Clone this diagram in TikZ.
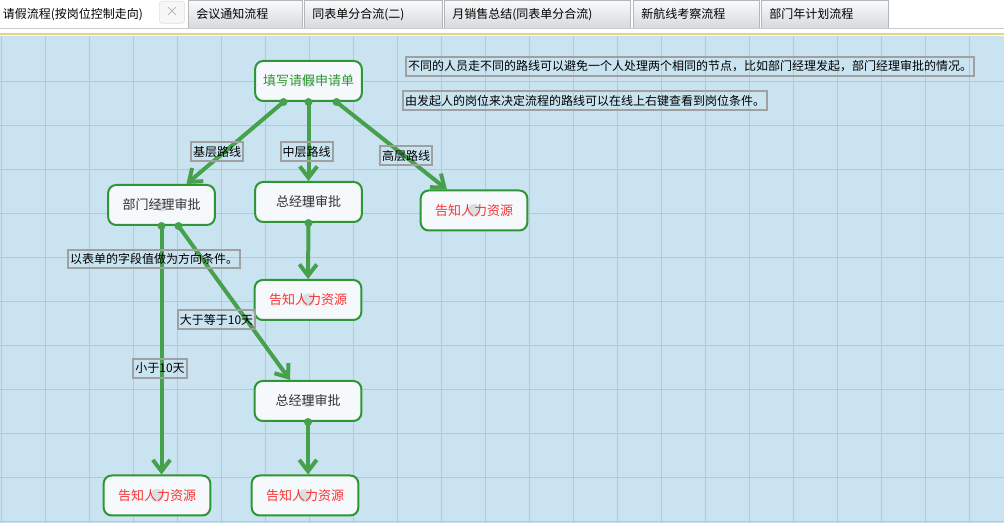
\documentclass[tikz,border=0pt]{standalone}
\usepackage{fontspec}
\setmainfont{Noto Sans CJK SC}
\usetikzlibrary{arrows.meta,calc}
\definecolor{canvas}{RGB}{201,228,240}
\definecolor{gridline}{RGB}{180,200,214}
\definecolor{flowgreen}{RGB}{70,160,76}
\definecolor{boxgreen}{RGB}{46,150,52}
\definecolor{nodefill}{RGB}{245,249,251}
\definecolor{hubgray}{RGB}{218,223,226}
\definecolor{tipred}{RGB}{250,50,50}
\definecolor{labelgray}{RGB}{160,160,160}
\definecolor{tabtop}{RGB}{250,250,250}
\definecolor{tabbot}{RGB}{214,217,221}
\definecolor{tabline}{RGB}{178,183,189}

\begin{document}
\begin{tikzpicture}[x=0.75pt,y=-0.75pt,
  stepbox/.style={draw=boxgreen,line width=1.5pt,fill=nodefill,rounded corners=6pt,
    minimum width=80pt,minimum height=30pt,font=\fontsize{9.75pt}{11pt}\selectfont,text=black!80,
    path picture={\fill[hubgray] (path picture bounding box.center) circle (6.5);}},
  cond/.style={draw=labelgray,line width=1.5pt,inner xsep=1.5pt,inner ysep=0pt,minimum height=14pt,
    font=\fontsize{9pt}{10pt}\selectfont},
  flow/.style={flowgreen,line width=3pt,-{Straight Barb[length=8.5pt,width=13pt]}},
  tab/.style={draw=tabline,top color=tabtop,bottom color=tabbot,anchor=north west,minimum height=21pt,
    text width=#1,inner xsep=6pt,align=left,font=\fontsize{9pt}{10pt}\selectfont}
]
\useasboundingbox (0,0) rectangle (1004,523);

% tab bar
\fill[white] (0,0) rectangle (1004,36);
\node[anchor=north west,inner xsep=2pt,minimum height=21pt,font=\fontsize{9pt}{10pt}\selectfont] (t1) at (0,0) {请假流程(按岗位控制走向)};
\node[draw=black!12,fill=black!3,rounded corners=2pt,anchor=north west,minimum width=19pt,minimum height=16.5pt,
  inner sep=0pt,text=black!30] (close) at (159,1) {×};
\node[tab=73.5pt] (t2) at (188,0) {会议通知流程};
\node[tab=91.5pt] (t3) at (304,0) {同表单分合流(二)};
\node[tab=127.5pt] (t4) at (444,0) {月销售总结(同表单分合流)};
\node[tab=82.5pt] (t5) at (633,0) {新航线考察流程};
\node[tab=83pt] (t6) at (761,0) {部门年计划流程};
\draw[black!20] (0,28.5) -- (1004,28.5);
\draw[line width=1.5pt,yellow!50!white!85!black] (0,34.5) -- (1004,34.5);

% canvas with grid
\fill[canvas] (0,36) rectangle (1004,523);
\foreach \x in {1,45,...,1000} \draw[gridline] (\x,36) -- (\x,523);
\foreach \y in {81,125,...,521} \draw[gridline] (0,\y) -- (1004,\y);

% steps
\node[stepbox,text=boxgreen] (tx) at (308.5,81) {填写请假申请单};
\node[stepbox] (bm) at (161.5,205) {部门经理审批};
\node[stepbox] (zj1) at (308.5,202) {总经理审批};
\node[stepbox,text=tipred] (hr1) at (474,210.5) {告知人力资源};
\node[stepbox,text=tipred] (hr2) at (308,300) {告知人力资源};
\node[stepbox] (zj2) at (308,401) {总经理审批};
\node[stepbox,text=tipred] (hr3) at (157,495.5) {告知人力资源};
\node[stepbox,text=tipred] (hr4) at (305,495.5) {告知人力资源};

% connectors
\coordinate (a1) at ($(tx.south)+(-25,0)$);
\coordinate (a2) at (tx.south);
\coordinate (a3) at ($(tx.south)+(28,0)$);
\coordinate (b1) at (bm.south);
\coordinate (b2) at ($(bm.south)+(17,0)$);
\coordinate (c1) at (zj1.south);
\coordinate (d1) at (zj2.south);
\draw[flow] (a1) -- ($(bm.north)+(25,0)$);
\draw[flow] (a2) -- (zj1.north);
\draw[flow] (a3) -- ($(hr1.north)+(-27,0)$);
\draw[flow] (b1) -- (b1 |- hr3.north);
\draw[flow] (b2) -- ($(zj2.north)+(-18,0)$);
\draw[flow] (c1) -- (hr2.north);
\draw[flow] (d1) -- (d1 |- hr4.north);
\foreach \p in {a1,a2,a3,b1,b2,c1,d1} \fill[flowgreen] (\p) circle (4);

% conditions
\node[cond] (l1) at (217,151.5) {基层路线};
\node[cond] (l2) at (306.5,151.5) {中层路线};
\node[cond] (l3) at (406,155.5) {高层路线};
\node[cond] (l4) at (216.5,319.5) {大于等于10天};
\node[cond] (l5) at (160,368.5) {小于10天};
\node[cond] (n3) at (154,259) {以表单的字段值做为方向条件。};

% notes
\node[cond,anchor=west] (n1) at (405,66.5) {不同的人员走不同的路线可以避免一个人处理两个相同的节点，比如部门经理发起，部门经理审批的情况。};
\node[cond,anchor=west] (n2) at (402,100.5) {由发起人的岗位来决定流程的路线可以在线上右键查看到岗位条件。};
\end{tikzpicture}
\end{document}
